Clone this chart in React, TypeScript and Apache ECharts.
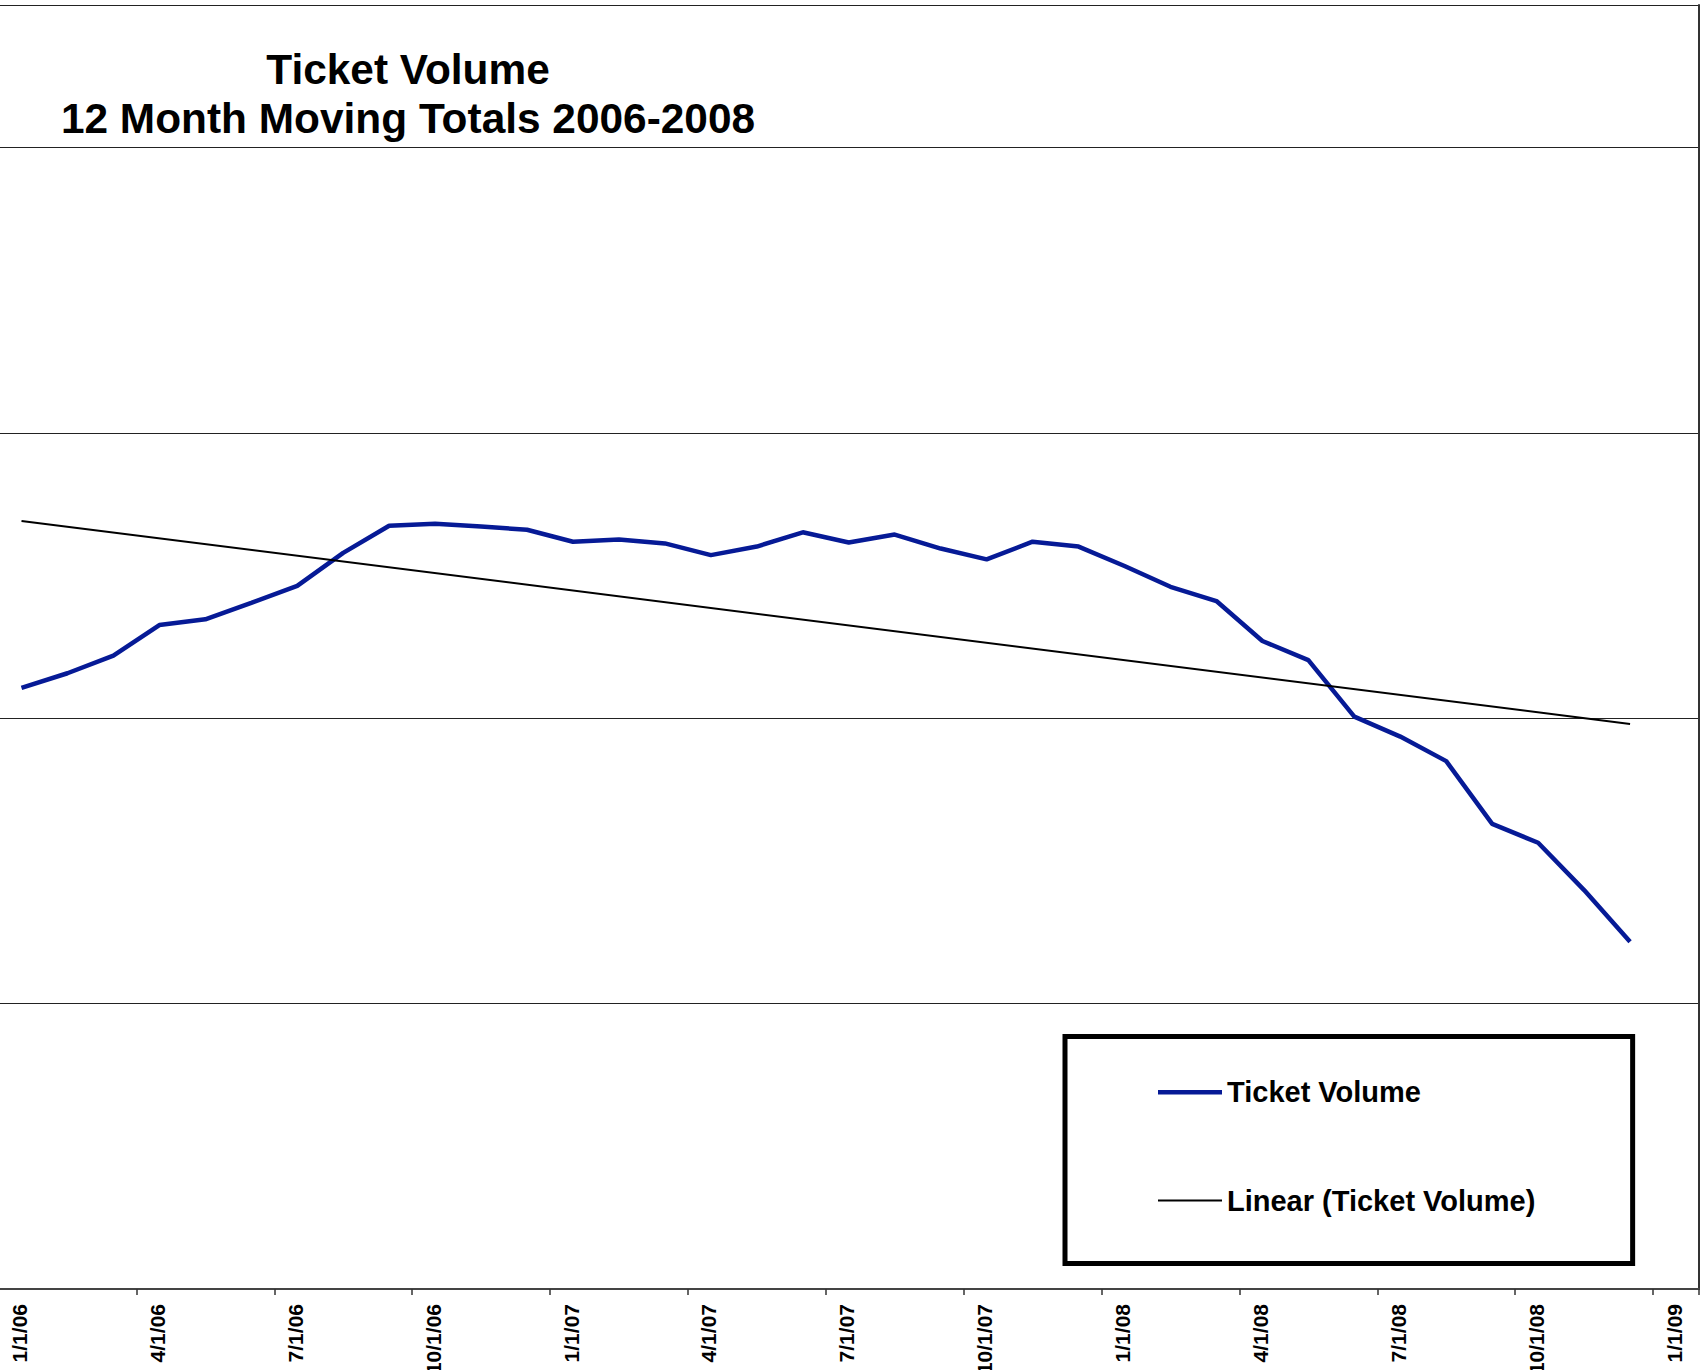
import React, { useEffect, useRef } from 'react';
import * as echarts from 'echarts';

// Months of the series (2006-2008), one point per month
const months = [
  'Jan 2006', 'Feb 2006', 'Mar 2006', 'Apr 2006', 'May 2006', 'Jun 2006',
  'Jul 2006', 'Aug 2006', 'Sep 2006', 'Oct 2006', 'Nov 2006', 'Dec 2006',
  'Jan 2007', 'Feb 2007', 'Mar 2007', 'Apr 2007', 'May 2007', 'Jun 2007',
  'Jul 2007', 'Aug 2007', 'Sep 2007', 'Oct 2007', 'Nov 2007', 'Dec 2007',
  'Jan 2008', 'Feb 2008', 'Mar 2008', 'Apr 2008', 'May 2008', 'Jun 2008',
  'Jul 2008', 'Aug 2008', 'Sep 2008', 'Oct 2008', 'Nov 2008', 'Dec 2008',
];

// 12 month moving totals
const ticketVolume = [
  161070, 161580, 162200, 163270, 163470, 164050,
  164640, 165800, 166750, 166820, 166720, 166610,
  166190, 166270, 166130, 165720, 166020, 166520,
  166160, 166440, 165950, 165570, 166190, 166020,
  165340, 164610, 164110, 162710, 162040, 160060,
  159360, 158500, 156300, 155640, 153980, 152170,
];

// Quarterly tick labels of the date axis
const tickLabels = [
  '1/1/06', '4/1/06', '7/1/06', '10/1/06',
  '1/1/07', '4/1/07', '7/1/07', '10/1/07',
  '1/1/08', '4/1/08', '7/1/08', '10/1/08',
  '1/1/09',
];

const seriesName = 'Ticket Volume';
const trendName = 'Linear (Ticket Volume)';
const titleLines = ['Ticket Volume', '12 Month Moving Totals 2006-2008'];

const yMin = 140000;
const yMax = 185000;
const yStep = 10000;
const xMonthsMax = 37; // axis runs to 2/1/09

const FONT = '"Liberation Sans", Arial, Helvetica, sans-serif';

export default function App() {
  const ref = useRef<HTMLDivElement>(null);

  useEffect(() => {
    if (!ref.current) return;
    const chart = echarts.init(ref.current, undefined, { renderer: 'svg' });

    // points sit in the middle of each month
    const points = ticketVolume.map((v, i) => [i + 0.5, v]);

    // Excel-style linear trendline (least squares)
    const n = points.length;
    const mx = points.reduce((s, p) => s + p[0], 0) / n;
    const my = points.reduce((s, p) => s + p[1], 0) / n;
    let sxy = 0;
    let sxx = 0;
    points.forEach((p) => {
      sxy += (p[0] - mx) * (p[1] - my);
      sxx += (p[0] - mx) * (p[0] - mx);
    });
    const slope = sxy / sxx;
    const intercept = my - slope * mx;
    const x0 = points[0][0];
    const x1 = points[n - 1][0];
    const trend = [
      [x0, intercept + slope * x0],
      [x1, intercept + slope * x1],
    ];

    chart.setOption({
      animation: false,
      backgroundColor: '#ffffff',
      title: {
        text: titleLines.join('\n'),
        left: 408,
        top: 45,
        textAlign: 'center',
        padding: 0,
        textStyle: {
          fontFamily: FONT,
          fontSize: 42.4,
          fontWeight: 'bold',
          color: '#000',
          lineHeight: 49,
        },
      },
      grid: {
        left: -1.5,
        right: 1,
        top: 5,
        bottom: 81,
        outerBoundsMode: 'none',
        containLabel: false,
      },
      legend: {
        orient: 'vertical',
        left: 1065,
        top: 1036.5,
        itemWidth: 64,
        itemHeight: 30,
        itemGap: 79.3,
        padding: [41.2, 97.3, 48.6, 93],
        borderColor: '#000',
        borderWidth: 5,
        backgroundColor: '#fff',
        itemStyle: { borderWidth: 0 },
        textStyle: {
          fontFamily: FONT,
          fontSize: 29,
          fontWeight: 'bold',
          color: '#000',
        },
        data: [
          { name: seriesName, icon: 'path://M0,0H64V4.5H0Z' },
          { name: trendName, icon: 'path://M0,0H64V2H0Z' },
        ],
      },
      xAxis: {
        type: 'value',
        min: 0,
        max: xMonthsMax,
        interval: 3,
        axisLine: { show: true, lineStyle: { color: '#444', width: 2 } },
        axisTick: { show: true, length: 6, lineStyle: { color: '#333', width: 1.5 } },
        splitLine: { show: false },
        axisLabel: {
          rotate: 90,
          margin: 15,
          fontFamily: FONT,
          fontSize: 21,
          fontWeight: 'bold',
          color: '#000',
          lineHeight: 42,
          // an empty first line moves each rotated label to the right of its tick
          formatter: (v: number) => (v % 3 === 0 && tickLabels[v / 3] ? '\n' + tickLabels[v / 3] : ''),
        },
      },
      yAxis: [
        {
          type: 'value',
          min: yMin,
          max: yMax,
          interval: yStep,
          axisLabel: { show: false },
          axisLine: { show: false },
          axisTick: { show: false },
          splitLine: { show: true, lineStyle: { color: '#222', width: 1.2 } },
        },
        {
          type: 'value',
          position: 'right',
          min: yMin,
          max: yMax,
          interval: yStep,
          axisLabel: { show: false },
          axisLine: { show: true, lineStyle: { color: '#333', width: 2 } },
          axisTick: { show: false },
          splitLine: { show: false },
        },
      ],
      series: [
        {
          name: seriesName,
          type: 'line',
          data: points,
          symbol: 'none',
          lineStyle: { color: '#061a96', width: 4.5 },
          itemStyle: { color: '#061a96' },
          z: 3,
        },
        {
          name: trendName,
          type: 'line',
          data: trend,
          symbol: 'none',
          lineStyle: { color: '#000', width: 2 },
          itemStyle: { color: '#000' },
          z: 4,
        },
      ],
    });

    return () => chart.dispose();
  }, []);

  return (
    <div
      ref={ref}
      style={{ position: 'absolute', left: 0, top: 0, width: 1700, height: 1370 }}
    />
  );
}
